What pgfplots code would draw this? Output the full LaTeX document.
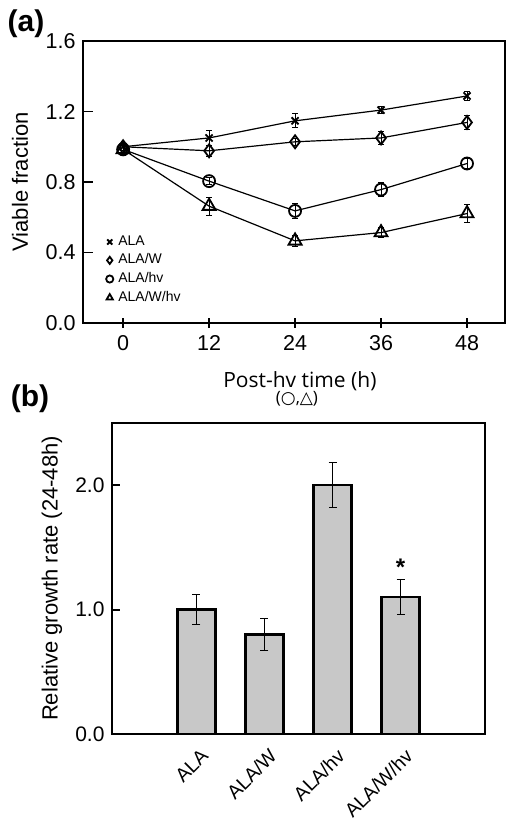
\documentclass[border=0pt]{standalone}
\usepackage{pgfplots}
\pgfplotsset{compat=1.18}
\usepackage{fontspec}
\setmainfont{Liberation Sans}
\newfontfamily\opensans{Open Sans}
\newfontfamily\dejavu{DejaVu Sans}
\definecolor{bargray}{HTML}{C8C8C8}
\pgfplotstableread{
x y e
0 1.00 0.02
12 1.05 0.04
24 1.147 0.04
36 1.208 0.02
48 1.288 0.025
}\tALA
\pgfplotstableread{
x y e
0 1.00 0.02
12 0.977 0.03
24 1.028 0.02
36 1.05 0.035
48 1.138 0.04
}\tALAW
\pgfplotstableread{
x y e
0 0.985 0.02
12 0.805 0.02
24 0.636 0.04
36 0.757 0.04
48 0.905 0.03
}\tALAhv
\pgfplotstableread{
x y e
0 0.985 0.03
12 0.663 0.05
24 0.466 0.03
36 0.513 0.03
48 0.621 0.05
}\tALAWhv
\pgfplotstableread{
x y e
0 1.00 0.12
1 0.80 0.13
2 2.00 0.18
3 1.10 0.14
}\tbar
\begin{document}
\fontsize{22}{26}\selectfont
\begin{tikzpicture}[x=1pt,y=1pt]
\useasboundingbox (0,0) rectangle (514,823);
\node[font=\fontsize{30}{32}\selectfont\bfseries] at (26,799) {(a)};
\node[font=\fontsize{30}{32}\selectfont\bfseries] at (30,424) {(b)};
\begin{axis}[
  at={(83pt,500pt)}, anchor=south west, scale only axis,
  width=422pt, height=282pt,
  xmin=-5.6, xmax=53.3, ymin=0, ymax=1.6,
  xtick={0,12,24,36,48}, ytick={0,0.4,0.8,1.2,1.6},
  axis line style={line width=1.6pt},
  every tick/.style={black, line width=1.6pt},
  major tick length=10pt, xtick align=center, ytick align=inside,
  xtick pos=bottom, ytick pos=left,
  /pgf/number format/assume math mode=true,
  tick label style={font=\fontsize{21.5}{26}\selectfont},
  y tick label style={/pgf/number format/.cd, fixed, fixed zerofill, precision=1},
  ylabel={Viable fraction},
  ylabel style={at={(axis description cs:-0.149,0.5)}, anchor=center, font=\fontsize{22}{26}\selectfont},
  clip=false,
  legend style={at={(axis description cs:0.052,0.318)}, anchor=north west, draw=none, fill=none,
    font=\fontsize{14}{16}\selectfont, row sep=1.2pt, inner sep=0pt, cells={anchor=west}},
  legend image code/.code={\draw[#1, mark size=3.6pt, line width=0.55pt] plot coordinates {(0pt,0pt)}; \path (-4pt,0pt) (6pt,0pt);},
  error bars/y dir=both, error bars/y explicit,
  error bars/error bar style={line width=0.9pt, black},
  error bars/error mark options={rotate=90, mark size=3pt, line width=0.9pt, black},
]
\addplot[black, line width=1.2pt, mark=x, mark size=5pt, mark options={line width=1.8pt}] table[x=x,y=y,y error=e] {\tALA};
\addlegendentry{ALA}
\addplot[black, line width=1.2pt, mark=diamond, mark size=6.5pt, mark options={line width=1.8pt}] table[x=x,y=y,y error=e] {\tALAW};
\addlegendentry{ALA/W}
\addplot[black, line width=1.2pt, mark=o, mark size=6pt, mark options={line width=1.8pt}] table[x=x,y=y,y error=e] {\tALAhv};
\addlegendentry{ALA/hv}
\addplot[black, line width=1.2pt, mark=triangle, mark size=7.5pt, mark options={line width=1.8pt}] table[x=x,y=y,y error=e] {\tALAWhv};
\addlegendentry{ALA/W/hv}
\node[anchor=base, font=\fontsize{21}{24}\opensans] at (axis description cs:0.514,-0.227) {Post-hv time (h)};
\node[anchor=base, font=\fontsize{17}{19}\opensans] at (axis description cs:0.507,-0.287) {({\dejavu ○},{\dejavu △})};
\end{axis}
\begin{axis}[
  at={(112pt,89pt)}, anchor=south west, scale only axis,
  width=373pt, height=311pt,
  xmin=-1.24, xmax=4.24, ymin=0, ymax=2.5,
  ybar, bar width=38pt,
  xtick={0,1,2,3}, xticklabels={ALA,ALA/W,ALA/hv,ALA/W/hv},
  x tick style={draw=none},
  ytick={0,1,2}, ytick pos=left, ytick align=inside,
  major tick length=8pt,
  y tick style={line width=2.2pt, black},
  axis line style={line width=2.5pt},
  /pgf/number format/assume math mode=true,
  y tick label style={font=\fontsize{21}{26}\selectfont, /pgf/number format/.cd, fixed, fixed zerofill, precision=1},
  x tick label style={font=\fontsize{19.5}{22}\selectfont, rotate=45, anchor=north east, xshift=6pt, yshift=1pt},
  ylabel={Relative growth rate (24-48h)},
  ylabel style={at={(axis description cs:-0.161,0.5)}, anchor=center, font=\fontsize{22}{26}\selectfont},
  clip=false,
]
\addplot[fill=bargray, draw=black, line width=2.5pt,
  error bars/.cd, y dir=both, y explicit,
  error bar style={line width=1.2pt, black},
  error mark options={rotate=90, mark size=4pt, line width=1.2pt, black}]
  table[x=x,y=y,y error=e] {\tbar};
\node[anchor=base, font=\fontsize{24}{26}\selectfont\bfseries] at (axis cs:3,1.272) {*};
\end{axis}
\end{tikzpicture}
\end{document}
